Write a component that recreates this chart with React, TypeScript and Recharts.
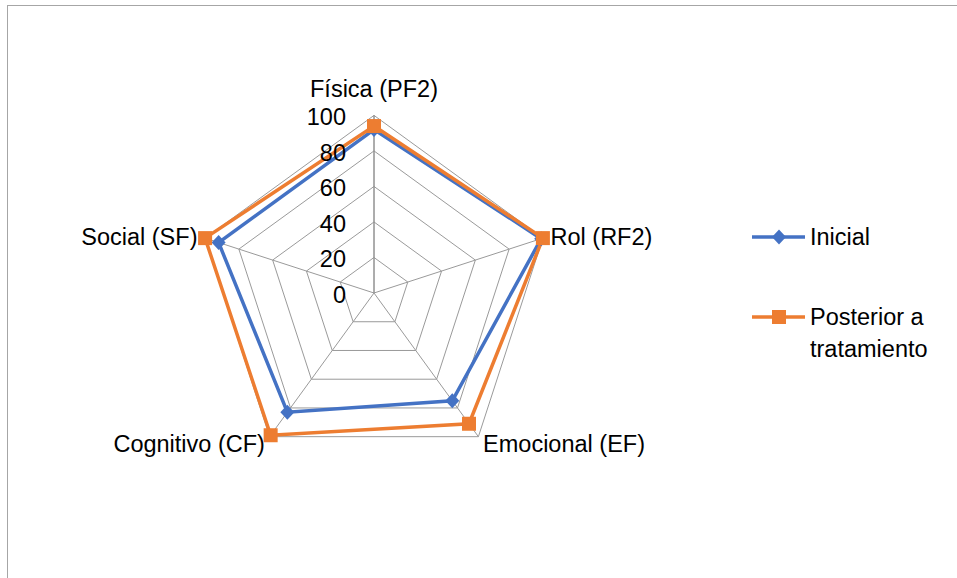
import {
    Legend,
    PolarAngleAxis,
    PolarGrid,
    PolarRadiusAxis,
    Radar,
    RadarChart,
} from 'recharts'

const categories = ['Física (PF2)', 'Rol (RF2)', 'Emocional (EF)', 'Cognitivo (CF)', 'Social (SF)']
const inicial = [92, 99, 75, 83, 92]
const posterior = [94, 100, 91, 99, 100]
const radiusTicks = [0, 20, 40, 60, 80, 100]

const BLUE = '#4472C4'
const ORANGE = '#ED7D31'
const GRID = '#9a9a9a'
const FONT = '"Liberation Sans", Arial, sans-serif'
const FONT_SIZE = 23.5
const CX = 374
const CY = 293

const data = categories.map((axis, i) => ({axis, inicial: inicial[i], posterior: posterior[i]}))

function AngleTick(props: any) {
    const {x, y, textAnchor, payload} = props
    // the top label sits higher above its vertex, like Excel does
    const dy = textAnchor === 'middle' && y < CY ? -18 : 1
    return (
        <text x={x} y={y + dy} textAnchor={textAnchor} dominantBaseline="central" fontSize={FONT_SIZE} fill="#000">
            {payload.value}
        </text>
    )
}

function RadiusTick(props: any) {
    const {x, y, payload} = props
    return (
        <text x={x - 28} y={y + 2} textAnchor="end" dominantBaseline="central" fontSize={FONT_SIZE} fill="#000">
            {payload.value}
        </text>
    )
}

const diamondDot = (p: any) => (
    <path
        key={`d-${p.index}`}
        d={`M${p.cx},${p.cy - 7.5}L${p.cx + 7},${p.cy}L${p.cx},${p.cy + 7.5}L${p.cx - 7},${p.cy}Z`}
        fill={BLUE}
    />
)

const squareDot = (p: any) => (
    <rect key={`s-${p.index}`} x={p.cx - 7} y={p.cy - 7} width={14} height={14} fill={ORANGE}/>
)

function LegendContent({payload}: any) {
    return (
        <div style={{fontFamily: FONT, fontSize: FONT_SIZE, color: '#000'}}>
            {(payload ?? []).map((item: any, i: number) => (
                <div key={item.value} style={{display: 'flex', alignItems: 'flex-start', marginBottom: i === 0 ? 48 : 0}}>
                    <svg width={58} height={32} style={{flex: 'none'}}>
                        <line x1={0} y1={16} x2={53} y2={16} stroke={item.color} strokeWidth={3.5}/>
                        {item.type === 'diamond' ? (
                            <path d="M27,8.5L34,16L27,23.5L20,16Z" fill={item.color}/>
                        ) : (
                            <rect x={20} y={9} width={14} height={14} fill={item.color}/>
                        )}
                    </svg>
                    <span style={{lineHeight: '32px', width: 140}}>{item.value}</span>
                </div>
            ))}
        </div>
    )
}

export default function App() {
    return (
        <div style={{position: 'fixed', left: 0, top: 0, width: 957, height: 578, overflow: 'hidden', background: '#fff'}}>
            <div
                style={{
                    position: 'absolute',
                    left: 7,
                    top: 5,
                    width: 980,
                    height: 600,
                    border: '1px solid #a6a6a6',
                }}
            />
            <div style={{position: 'absolute', left: 0, top: 0}}>
                <RadarChart
                    width={957}
                    height={578}
                    data={data}
                    cx={CX}
                    cy={CY}
                    outerRadius={177.6}
                    margin={{top: 0, right: 0, bottom: 0, left: 0}}
                    style={{fontFamily: FONT}}
                >
                    <PolarGrid gridType="polygon" stroke={GRID} strokeOpacity={1}/>
                    <PolarAngleAxis dataKey="axis" tick={<AngleTick/>} tickLine={false} axisLine={false}/>
                    <PolarRadiusAxis
                        angle={90}
                        domain={[0, 100]}
                        ticks={radiusTicks as any}
                        tickCount={radiusTicks.length}
                        tick={<RadiusTick/>}
                        axisLine={{stroke: '#8c8c8c'}}
                    />
                    <Radar
                        dataKey="inicial"
                        name="Inicial"
                        stroke={BLUE}
                        strokeWidth={3.5}
                        fill="none"
                        fillOpacity={0}
                        dot={diamondDot}
                        legendType="diamond"
                        isAnimationActive={false}
                    />
                    <Radar
                        dataKey="posterior"
                        name="Posterior a tratamiento"
                        stroke={ORANGE}
                        strokeWidth={3.5}
                        fill="none"
                        fillOpacity={0}
                        dot={squareDot}
                        legendType="square"
                        isAnimationActive={false}
                    />
                    <Legend
                        content={<LegendContent/>}
                        wrapperStyle={{position: 'absolute', left: 752, top: 221, width: 200, height: 'auto'}}
                    />
                </RadarChart>
            </div>
        </div>
    )
}
